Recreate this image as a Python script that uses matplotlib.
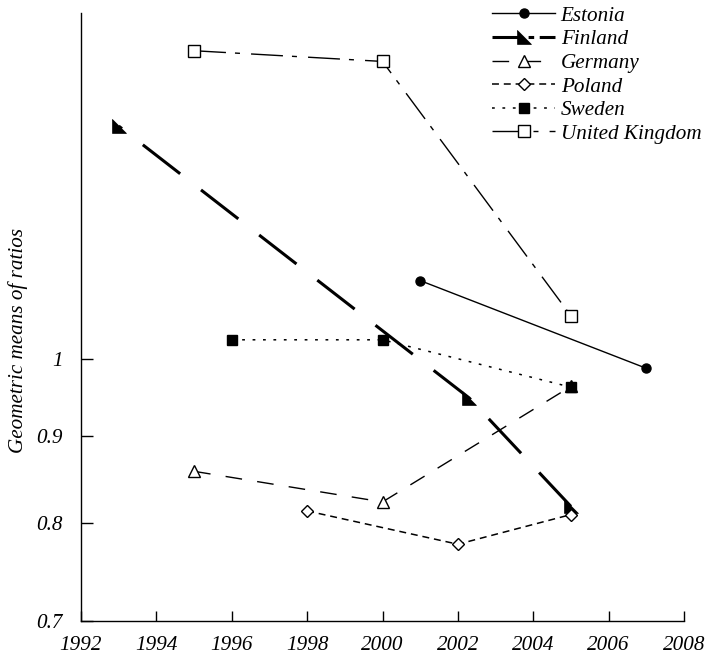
import numpy as np
import matplotlib
matplotlib.use("Agg")
import matplotlib.pyplot as plt
from matplotlib.lines import Line2D
from matplotlib.ticker import FixedLocator, FixedFormatter, NullLocator

plt.rcParams['font.family'] = ['Liberation Serif', 'DejaVu Serif']
plt.rcParams['font.style'] = 'italic'
plt.rcParams['font.size'] = 15.2
plt.rcParams['lines.scale_dashes'] = False

# data (geometric means of ratios, log scale)
estonia_years = [2001, 2007]
estonia_vals = [1.112, 0.987]

finland_years = [1993, 2002.3, 2005]
finland_vals = [1.372, 0.948, 0.818]

germany_years = [1995, 2000, 2005]
germany_vals = [0.858, 0.823, 0.963]

poland_years = [1998, 2002, 2005]
poland_vals = [0.813, 0.777, 0.809]

sweden_years = [1996, 2000, 2005]
sweden_vals = [1.026, 1.026, 0.962]

uk_years = [1995, 2000, 2005]
uk_vals = [1.52, 1.498, 1.060]

xticks = list(range(1992, 2009, 2))
yticks = [0.7, 0.8, 0.9, 1.0]
ytick_labels = ['0.7', '0.8', '0.9', '1']

# right triangle marker used for Finland
tri = [(-1, 1), (-1, -1), (1, -1), (-1, 1)]

fig = plt.figure(figsize=(7.05, 6.54), dpi=100)
ax = fig.add_axes([81/705, 33/654, (684-81)/705, (621-13)/654])

ax.plot(estonia_years, estonia_vals, color='black', lw=1.0, ls='-',
        marker='o', ms=6.5, mfc='black', mec='black', label='Estonia')
ax.plot(finland_years, finland_vals, color='black', lw=2.2, ls=(31, (34, 19)),
        marker=tri, ms=10, mfc='black', mec='black', mew=0.5, label='Finland')
ax.plot(germany_years, germany_vals, color='black', lw=1.0, dashes=(12, 11),
        marker='^', ms=8, mfc='white', mec='black', mew=1.0, label='Germany')
ax.plot(poland_years, poland_vals, color='black', lw=1.1, dashes=(5, 3.5),
        marker='D', ms=6, mfc='white', mec='black', mew=1.0, label='Poland')
ax.plot(sweden_years, sweden_vals, color='black', lw=1.1, dashes=(2, 5.5),
        marker='s', ms=6.5, mfc='black', mec='black', label='Sweden')
ax.plot(uk_years, uk_vals, color='black', lw=1.0, dashes=(23, 6.5, 3.6, 8),
        marker='s', ms=8.5, mfc='white', mec='black', mew=1.0, label='United Kingdom')

ax.set_yscale('log')
ax.set_xlim(1992, 2008)
ax.set_ylim(0.7, 1.6)
ax.xaxis.set_major_locator(FixedLocator(xticks))
ax.yaxis.set_major_locator(FixedLocator(yticks))
ax.yaxis.set_major_formatter(FixedFormatter(ytick_labels))
ax.yaxis.set_minor_locator(NullLocator())

for s in ['top', 'right']:
    ax.spines[s].set_visible(False)
for s in ['left', 'bottom']:
    ax.spines[s].set_linewidth(1.0)

ax.tick_params(axis='y', direction='in', length=8.5, width=1.0, pad=13)
ax.tick_params(axis='x', direction='in', length=7.5, width=1.0, pad=11)

fig.text(18/705, 1 - 340/654, 'Geometric means of ratios', rotation=90,
         ha='center', va='center')

handles, labels = ax.get_legend_handles_labels()
# finland legend sample: long dash into the marker, short dashes after
handles[1] = Line2D([], [], color='black', lw=2.2, ls=(0, (22, 4, 4, 4)),
                    marker=tri, ms=10, mfc='black', mec='black', mew=0.5)

fig.legend(handles, labels, loc='upper left', bbox_to_anchor=(492/705, 1 - 6/654),
           frameon=False, numpoints=1, handlelength=3.0, handletextpad=0.25,
           labelspacing=0.18, borderpad=0, borderaxespad=0)

fig.savefig('out.png', dpi=100)
